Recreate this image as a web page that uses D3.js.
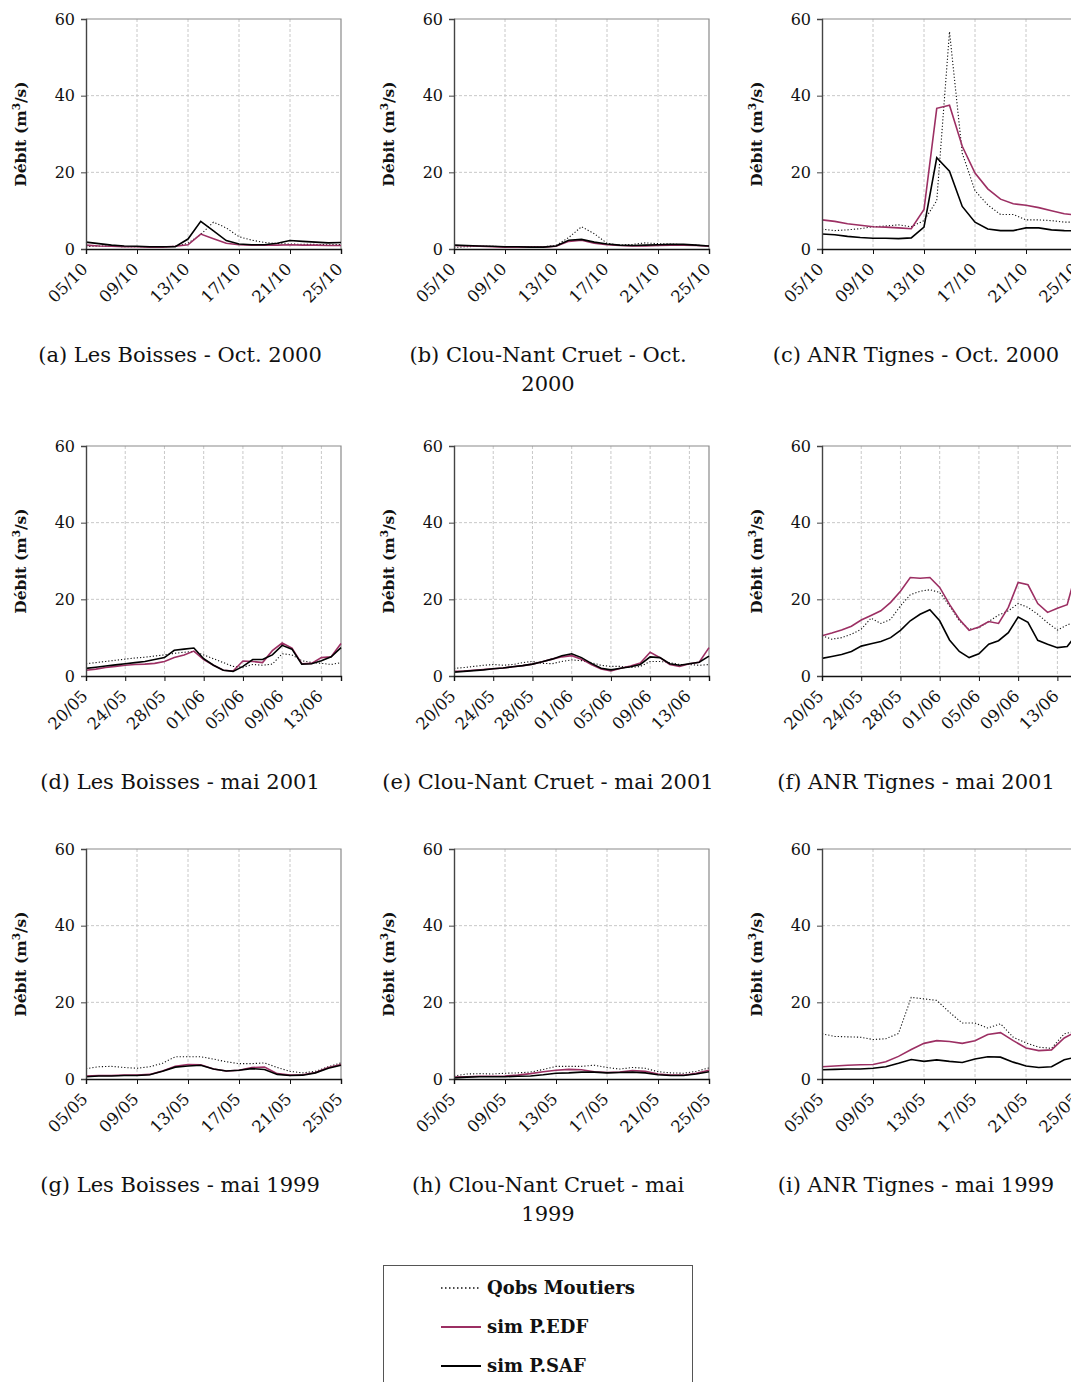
<!DOCTYPE html>
<html>
<head>
<meta charset="utf-8">
<script src="https://cdn.jsdelivr.net/npm/d3@7"></script>
<style>
  body { margin: 0; background: #fff; }
  svg { display: block; }
  text { font-family: "DejaVu Serif", serif; fill: #111; }
</style>
</head>
<body>
<svg id="fig" width="1071" height="1382"></svg>
<script>
// tick labels, one every 4 days
const octTicks = ["05/10", "09/10", "13/10", "17/10", "21/10", "25/10"];
const juneTicks = ["20/05", "24/05", "28/05", "01/06", "05/06", "09/06", "13/06"];
const mayTicks = ["05/05", "09/05", "13/05", "17/05", "21/05", "25/05"];

const series = ["Qobs Moutiers", "sim P.EDF", "sim P.SAF"];

// daily discharges (m3/s)
// (a) Les Boisses - Oct. 2000
const obsA = [0.6, 0.8, 0.7, 0.6, 0.6, 0.6, 0.6, 0.7, 1.5, 3.8, 7.0, 5.5, 3.2, 2.3, 1.7, 1.4, 1.3, 1.2, 1.2, 1.1, 1.2];
const edfA = [1.0, 0.8, 0.7, 0.6, 0.6, 0.5, 0.5, 0.7, 1.1, 3.9, 2.7, 1.5, 1.1, 1.0, 1.0, 1.0, 1.1, 1.0, 1.0, 0.9, 0.9];
const safA = [1.8, 1.4, 1.0, 0.8, 0.7, 0.6, 0.6, 0.6, 2.6, 7.2, 4.7, 2.2, 1.3, 1.1, 1.1, 1.5, 2.2, 2.0, 1.8, 1.6, 1.7];
// (b) Clou-Nant Cruet - Oct. 2000
const obsB = [0.4, 0.6, 0.7, 0.7, 0.6, 0.6, 0.6, 0.6, 0.9, 3.0, 5.8, 4.0, 1.5, 1.0, 1.2, 1.6, 1.4, 1.3, 1.1, 1.0, 0.8];
const edfB = [0.9, 0.8, 0.7, 0.6, 0.5, 0.5, 0.5, 0.5, 0.7, 2.0, 2.3, 1.5, 1.1, 0.9, 0.8, 0.8, 0.9, 1.0, 1.0, 0.9, 0.7];
const safB = [1.0, 0.9, 0.8, 0.7, 0.6, 0.6, 0.5, 0.5, 0.8, 2.3, 2.5, 1.8, 1.3, 1.0, 0.9, 1.0, 1.1, 1.2, 1.2, 1.0, 0.8];
// (c) ANR Tignes - Oct. 2000
const obsC = [5.2, 4.8, 5.0, 5.3, 5.8, 6.0, 6.3, 5.8, 7.4, 12.6, 56.7, 25.0, 15.2, 11.5, 9.0, 9.0, 7.6, 7.6, 7.4, 7.0, 7.0];
const edfC = [7.6, 7.2, 6.6, 6.2, 5.8, 5.7, 5.5, 5.3, 10.3, 36.7, 37.5, 26.8, 19.8, 15.7, 13.0, 11.8, 11.4, 10.8, 10.0, 9.2, 8.8];
const safC = [3.9, 3.7, 3.3, 3.0, 2.8, 2.8, 2.7, 2.9, 5.7, 23.8, 20.3, 11.1, 7.0, 5.2, 4.8, 4.8, 5.5, 5.5, 5.0, 4.8, 4.7];
// (d) Les Boisses - mai 2001
const obsD = [3.2, 3.5, 3.8, 4.1, 4.4, 4.7, 4.9, 5.2, 5.5, 5.9, 6.2, 6.4, 5.5, 4.5, 3.5, 2.5, 2.3, 3.0, 2.8, 3.1, 5.8, 5.5, 4.0, 3.5, 3.3, 3.0, 3.5];
const edfD = [1.5, 1.8, 2.2, 2.5, 2.8, 3.0, 3.1, 3.3, 3.8, 4.8, 5.5, 6.5, 4.3, 2.8, 1.5, 1.3, 3.9, 3.8, 3.5, 6.6, 8.6, 7.3, 3.2, 3.3, 4.8, 5.0, 8.5];
const safD = [2.0, 2.3, 2.6, 2.9, 3.2, 3.5, 3.8, 4.3, 4.8, 6.7, 7.0, 7.3, 4.5, 2.8, 1.5, 1.2, 2.5, 4.3, 4.3, 5.5, 8.0, 7.0, 3.1, 3.2, 4.0, 5.0, 7.4];
// (e) Clou-Nant Cruet - mai 2001
const obsE = [2.0, 2.2, 2.5, 2.8, 3.0, 2.8, 3.0, 3.5, 3.8, 3.3, 3.2, 3.8, 4.2, 4.0, 3.5, 2.8, 2.5, 2.5, 2.2, 2.5, 3.8, 3.8, 3.5, 3.0, 3.0, 2.8, 3.0];
const edfE = [1.2, 1.3, 1.5, 1.7, 1.9, 2.1, 2.4, 2.7, 3.1, 3.7, 4.4, 5.0, 5.3, 4.4, 3.0, 1.8, 1.3, 2.0, 2.6, 3.4, 6.2, 4.8, 3.0, 2.5, 3.2, 3.6, 7.4];
const safE = [1.0, 1.2, 1.4, 1.6, 1.9, 2.1, 2.4, 2.7, 3.1, 3.7, 4.4, 5.3, 5.8, 4.8, 3.3, 2.0, 1.6, 2.0, 2.4, 3.0, 5.0, 4.8, 3.2, 2.8, 3.2, 3.6, 5.2];
// (f) ANR Tignes - mai 2001
const obsF = [10.5, 9.6, 10.0, 10.9, 12.2, 15.1, 13.7, 14.8, 18.3, 21.2, 22.1, 22.5, 21.8, 18.3, 14.4, 12.2, 12.6, 14.2, 15.9, 17.0, 18.9, 17.9, 16.1, 13.9, 12.0, 13.3, 14.5];
const edfF = [10.5, 11.2, 12.0, 13.0, 14.6, 15.8, 17.0, 19.2, 22.1, 25.7, 25.5, 25.7, 23.1, 18.7, 14.8, 11.9, 12.8, 14.2, 13.7, 17.9, 24.4, 23.8, 18.9, 16.6, 17.7, 18.6, 28.0];
const safF = [4.6, 5.1, 5.6, 6.4, 7.8, 8.4, 9.0, 10.0, 11.9, 14.4, 16.1, 17.3, 14.4, 9.4, 6.4, 4.8, 5.8, 8.3, 9.2, 11.3, 15.4, 14.0, 9.3, 8.3, 7.4, 7.7, 11.0];
// (g) Les Boisses - mai 1999
const obsG = [2.7, 3.2, 3.3, 3.0, 2.8, 3.2, 4.1, 5.8, 5.8, 5.8, 5.2, 4.5, 4.0, 4.0, 4.2, 3.0, 2.0, 1.6, 2.0, 3.2, 4.2];
const edfG = [0.8, 0.9, 0.9, 1.0, 1.0, 1.2, 2.1, 3.3, 3.8, 3.7, 2.6, 2.1, 2.3, 3.0, 3.1, 1.4, 1.0, 1.1, 1.7, 3.0, 3.8];
const safG = [0.6, 0.8, 0.8, 0.9, 0.9, 1.1, 2.0, 3.1, 3.4, 3.6, 2.6, 2.1, 2.3, 2.7, 2.5, 1.2, 0.9, 1.0, 1.6, 2.8, 3.6];
// (h) Clou-Nant Cruet - mai 1999
const obsH = [0.8, 1.3, 1.4, 1.3, 1.5, 1.6, 1.8, 2.5, 3.3, 3.3, 3.3, 3.6, 3.0, 2.6, 3.0, 2.8, 1.9, 1.6, 1.5, 2.0, 2.9];
const edfH = [0.5, 0.6, 0.7, 0.7, 0.8, 1.0, 1.4, 1.9, 2.3, 2.5, 2.4, 1.9, 1.7, 1.8, 2.2, 2.0, 1.3, 1.0, 1.0, 1.5, 2.3];
const safH = [0.3, 0.5, 0.6, 0.6, 0.6, 0.7, 0.8, 1.1, 1.5, 1.6, 1.8, 1.8, 1.6, 1.7, 1.8, 1.6, 1.1, 0.9, 0.9, 1.3, 1.9];
// (i) ANR Tignes - mai 1999
const obsI = [11.8, 11.1, 11.0, 10.9, 10.3, 10.5, 11.9, 21.3, 20.9, 20.5, 17.4, 14.6, 14.6, 13.3, 14.4, 10.9, 9.4, 8.3, 8.0, 11.8, 12.5];
const edfI = [3.2, 3.4, 3.6, 3.7, 3.8, 4.5, 5.9, 7.7, 9.3, 10.0, 9.8, 9.3, 10.0, 11.6, 12.1, 10.0, 8.1, 7.4, 7.6, 10.7, 12.5];
const safI = [2.4, 2.5, 2.6, 2.6, 2.8, 3.2, 4.1, 5.1, 4.6, 5.0, 4.6, 4.3, 5.2, 5.8, 5.7, 4.4, 3.4, 3.0, 3.2, 5.0, 5.8];

const panels = [
  { cap: ["(a) Les Boisses - Oct. 2000"], ticks: octTicks, obs: obsA, edf: edfA, saf: safA },
  { cap: ["(b) Clou-Nant Cruet - Oct.", "2000"], ticks: octTicks, obs: obsB, edf: edfB, saf: safB },
  { cap: ["(c) ANR Tignes - Oct. 2000"], ticks: octTicks, obs: obsC, edf: edfC, saf: safC },
  { cap: ["(d) Les Boisses - mai 2001"], ticks: juneTicks, obs: obsD, edf: edfD, saf: safD },
  { cap: ["(e) Clou-Nant Cruet - mai 2001"], ticks: juneTicks, obs: obsE, edf: edfE, saf: safE },
  { cap: ["(f) ANR Tignes - mai 2001"], ticks: juneTicks, obs: obsF, edf: edfF, saf: safF },
  { cap: ["(g) Les Boisses - mai 1999"], ticks: mayTicks, obs: obsG, edf: edfG, saf: safG },
  { cap: ["(h) Clou-Nant Cruet - mai", "1999"], ticks: mayTicks, obs: obsH, edf: edfH, saf: safH },
  { cap: ["(i) ANR Tignes - mai 1999"], ticks: mayTicks, obs: obsI, edf: edfI, saf: safI }
];

const colLeft = [86, 454, 822];
const rowTop = [19, 446, 849];
const pw = 255, ph = 230;
const magenta = "#9c2f63";

const svg = d3.select("#fig");

panels.forEach((p, k) => {
  const col = k % 3, row = Math.floor(k / 3);
  const g = svg.append("g").attr("transform", `translate(${colLeft[col]},${rowTop[row]})`);
  const nDays = p.obs.length - 1;

  const x = d3.scaleLinear().domain([0, nDays]).range([0, pw]);
  const y = d3.scaleLinear().domain([0, 60]).range([ph, 0]);
  const tickDays = p.ticks.map((t, i) => i * 4);

  // grid
  g.append("g").selectAll("line.h").data([20, 40]).join("line")
    .attr("x1", 0).attr("x2", pw).attr("y1", d => y(d)).attr("y2", d => y(d))
    .attr("stroke", "#c8c8c8").attr("stroke-dasharray", "3,2");
  g.append("g").selectAll("line.v").data(tickDays.slice(1).filter(d => d < nDays)).join("line")
    .attr("x1", d => x(d)).attr("x2", d => x(d)).attr("y1", 0).attr("y2", ph)
    .attr("stroke", "#c8c8c8").attr("stroke-dasharray", "3,2");

  // frame (top + right)
  g.append("path").attr("d", `M0,0H${pw}V${ph}`)
    .attr("fill", "none").attr("stroke", "#8a8a8a").attr("stroke-width", 1.2);

  // lines
  const line = d3.line().x((d, i) => x(i)).y(d => y(d));
  g.append("path").datum(p.obs).attr("d", line)
    .attr("fill", "none").attr("stroke", "#111").attr("stroke-width", 1.1)
    .attr("stroke-dasharray", "1.2,2");
  g.append("path").datum(p.edf).attr("d", line)
    .attr("fill", "none").attr("stroke", magenta).attr("stroke-width", 1.6);
  g.append("path").datum(p.saf).attr("d", line)
    .attr("fill", "none").attr("stroke", "#000").attr("stroke-width", 1.6);

  // axes
  const ya = g.append("g").call(d3.axisLeft(y).tickValues([0, 20, 40, 60]).tickSize(5).tickPadding(6));
  ya.select(".domain").attr("stroke", "#444").attr("stroke-width", 1.4);
  ya.selectAll("line").attr("stroke", "#444");
  ya.selectAll("text").style("font-size", "16px").attr("fill", "#111");

  const xa = g.append("g").attr("transform", `translate(0,${ph})`)
    .call(d3.axisBottom(x).tickValues(tickDays).tickFormat((d, i) => p.ticks[i]).tickSize(5));
  xa.select(".domain").attr("stroke", "#111").attr("stroke-width", 1.4);
  xa.selectAll("line").attr("stroke", "#111");
  xa.selectAll("text")
    .style("font-size", "16.5px").attr("fill", "#111")
    .style("text-anchor", "end")
    .attr("x", 0).attr("y", 0).attr("dy", "0.35em")
    .attr("transform", "translate(-2,17) rotate(-45)");

  // y label
  const yl = g.append("text")
    .attr("transform", `translate(-60,${ph / 2}) rotate(-90)`)
    .attr("text-anchor", "middle")
    .style("font-size", "15.5px").style("font-weight", "bold");
  yl.append("tspan").text("Débit (m");
  yl.append("tspan").attr("dy", -6).style("font-size", "10.5px").text("3");
  yl.append("tspan").attr("dy", 6).text("/s)");

  // caption
  const cx = -64 + 158;
  p.cap.forEach((c, j) => {
    g.append("text")
      .attr("x", cx).attr("y", ph + 113 + j * 29)
      .attr("text-anchor", "middle")
      .style("font-size", "21px")
      .text(c);
  });
});

// legend
const lg = svg.append("g");
lg.append("rect").attr("x", 383.5).attr("y", 1265.5).attr("width", 309).attr("height", 140)
  .attr("fill", "none").attr("stroke", "#555").attr("stroke-width", 1);
const legendStyle = [
  { stroke: "#111", dash: "1.5,2.5", w: 1.3 },
  { stroke: magenta, dash: null, w: 1.8 },
  { stroke: "#000", dash: null, w: 1.8 }
];
series.forEach((s, i) => {
  const yy = 1288 + i * 39;
  lg.append("line").attr("x1", 441).attr("x2", 481).attr("y1", yy).attr("y2", yy)
    .attr("stroke", legendStyle[i].stroke).attr("stroke-width", legendStyle[i].w)
    .attr("stroke-dasharray", legendStyle[i].dash);
  lg.append("text").attr("x", 487).attr("y", yy).attr("dy", "0.35em")
    .style("font-size", "18px").style("font-weight", "bold").text(s);
});
</script>
</body>
</html>
